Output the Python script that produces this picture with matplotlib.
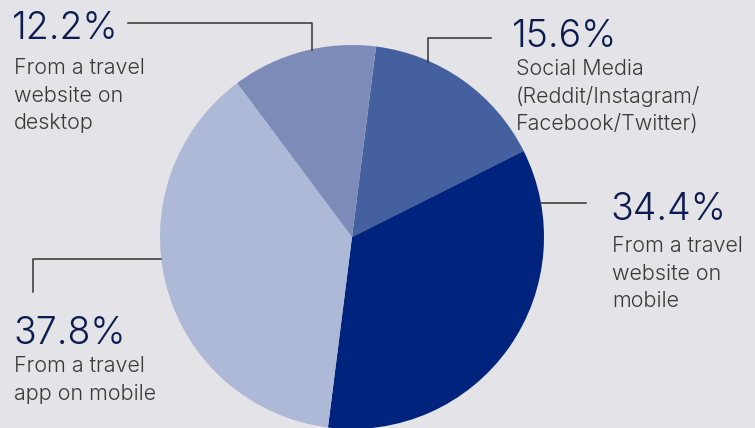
import matplotlib.pyplot as plt

# share of travellers by booking channel
channels = [
    ["Social Media", "(Reddit/Instagram/", "Facebook/Twitter)"],
    ["From a travel", "website on", "mobile"],
    ["From a travel", "app on mobile"],
    ["From a travel", "website on", "desktop"],
]
shares = [15.6, 34.4, 37.8, 12.2]
colors = ["#44609e", "#00247d", "#adb9d6", "#7d8bb8"]

W, H = 755, 428
BG = "#e3e3e8"

fig = plt.figure(figsize=(W / 100, H / 100), dpi=100, facecolor=BG)
ax = fig.add_axes([0, 0, 1, 1])

ax.pie(shares, colors=colors, center=(352, H - 237), radius=192,
       startangle=82.8, counterclock=False,
       wedgeprops=dict(linewidth=0))

# pie() resets the limits, so set the pixel frame afterwards
ax.set_xlim(0, W)
ax.set_ylim(0, H)
ax.set_aspect("equal")
ax.axis("off")

def y(v):
    return H - v

# label blocks: x / baseline of the percentage, x / baseline of first caption line
blocks = [(512, 47, 516, 75), (610, 220, 612, 252),
          (13, 344, 14, 372), (12, 39, 14, 74)]
LINE = 27.5
for (px, pb, tx, tb), s, lines in zip(blocks, shares, channels):
    ax.text(px, y(pb), f"{s}%", fontsize=27, color="#0c1c4e",
            family="Inter", fontweight=300, va="baseline", ha="left")
    for i, line in enumerate(lines):
        ax.text(tx, y(tb + i * LINE), line, fontsize=15.5, color="#3a3a3a",
                family="Inter", fontweight=300, va="baseline", ha="left")

# leader lines
lc = dict(color="#333333", lw=1.1)
ax.plot([128, 312, 312], [y(23), y(23), y(50)], **lc)
ax.plot([491, 428, 428], [y(38), y(38), y(62)], **lc)
ax.plot([540, 586], [y(203), y(203)], **lc)
ax.plot([161, 33, 33], [y(259), y(259), y(292)], **lc)

fig.savefig("out.png", dpi=100, facecolor=BG)
